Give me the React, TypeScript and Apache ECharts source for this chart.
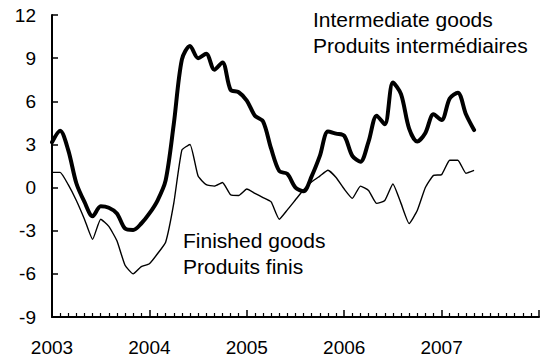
import React, { useEffect, useRef } from "react";
import * as echarts from "echarts";

// Monthly observations, January 2003 onward (month index 0 = Jan 2003)
const intermediateGoods: number[] = [
  3.15, 3.95, 2.6, 0.3, -1.0, -2.0, -1.3, -1.4, -1.8, -2.85, -2.95, -2.5,
  -1.8, -0.9, 0.5, 4.4, 8.9, 9.85, 9.0, 9.3, 8.2, 8.7, 6.8, 6.63,
  6.05, 5.0, 4.6, 2.7, 1.15, 0.95, 0.0, -0.25, 0.8, 2.2, 3.9, 3.75,
  3.6, 2.2, 1.8, 3.2, 5.0, 4.4, 7.3, 6.5, 4.1, 3.2, 3.8, 5.1,
  4.7, 6.2, 6.6, 5.1, 4.0,
];

const finishedGoods: number[] = [
  1.06, 1.06, 0.2, -0.9, -2.2, -3.6, -2.2, -2.7, -3.7, -5.4, -6.0, -5.5,
  -5.3, -4.6, -3.8, -1.1, 2.6, 3.0, 0.8, 0.2, 0.1, 0.35, -0.5, -0.55,
  -0.1, -0.4, -0.7, -1.0, -2.2, -1.55, -0.85, -0.15, 0.4, 0.8, 1.2, 0.7,
  -0.1, -0.75, 0.1, -0.2, -1.1, -0.9, 0.25, -1.1, -2.5, -1.6, 0.0, 0.85,
  0.9, 1.9, 1.9, 1.0, 1.2,
];

const startYear = 2003;
const yTicks = { min: -9, max: 12, step: 3 };

const intermediateLabel = ["Intermediate goods", "Produits intermédiaires"];
const finishedLabel = ["Finished goods", "Produits finis"];

const FONT = "'Liberation Sans', Arial, Helvetica, sans-serif";

export default function App() {
  const ref = useRef<HTMLDivElement>(null);

  useEffect(() => {
    if (!ref.current) return;
    const chart = echarts.init(ref.current, undefined, { renderer: "svg" });

    const toPairs = (arr: number[]) => arr.map((v, i) => [i, v]);

    chart.setOption({
      animation: false,
      backgroundColor: "#ffffff",
      grid: { left: 52, top: 15, bottom: 40, right: -14, containLabel: false },
      xAxis: {
        type: "value",
        min: 0,
        max: 60,
        interval: 12,
        axisLine: { show: true, onZero: false, lineStyle: { color: "#000", width: 2 } },
        axisTick: { show: true, inside: true, length: 7, lineStyle: { color: "#000", width: 1.5 } },
        minorTick: { show: true, splitNumber: 12, length: 4, lineStyle: { color: "#000", width: 1.2 } },
        splitLine: { show: false },
        minorSplitLine: { show: false },
        axisLabel: {
          color: "#000",
          fontFamily: FONT,
          fontSize: 19,
          margin: 21,
          formatter: (v: number) => (v < 60 && v % 12 === 0 ? String(startYear + v / 12) : ""),
        },
      },
      yAxis: {
        type: "value",
        min: yTicks.min,
        max: yTicks.max,
        interval: yTicks.step,
        axisLine: { show: true, lineStyle: { color: "#000", width: 2 } },
        axisTick: { show: true, inside: true, length: 6, lineStyle: { color: "#000", width: 1.5 } },
        splitLine: { show: false },
        axisLabel: { color: "#000", fontFamily: FONT, fontSize: 19, margin: 16 },
      },
      series: [
        {
          name: "Finished goods",
          type: "line",
          data: toPairs(finishedGoods),
          showSymbol: false,
          smooth: 0.15,
          lineStyle: { color: "#000", width: 1.4, join: "round" },
        },
        {
          name: "Intermediate goods",
          type: "line",
          data: toPairs(intermediateGoods),
          showSymbol: false,
          smooth: 0.3,
          lineStyle: { color: "#000", width: 4, join: "round", cap: "round" },
        },
      ],
      graphic: [
        {
          type: "text",
          left: 313,
          top: 6,
          style: {
            text: intermediateLabel.join("\n"),
            fill: "#000",
            font: `21px ${FONT}`,
            lineHeight: 26,
          },
        },
        {
          type: "text",
          left: 183,
          top: 227,
          style: {
            text: finishedLabel.join("\n"),
            fill: "#000",
            font: `21px ${FONT}`,
            lineHeight: 26,
          },
        },
      ],
    });

    return () => chart.dispose();
  }, []);

  return (
    <div
      ref={ref}
      style={{ position: "fixed", left: 0, top: 0, width: 542, height: 357, background: "#fff" }}
    />
  );
}
